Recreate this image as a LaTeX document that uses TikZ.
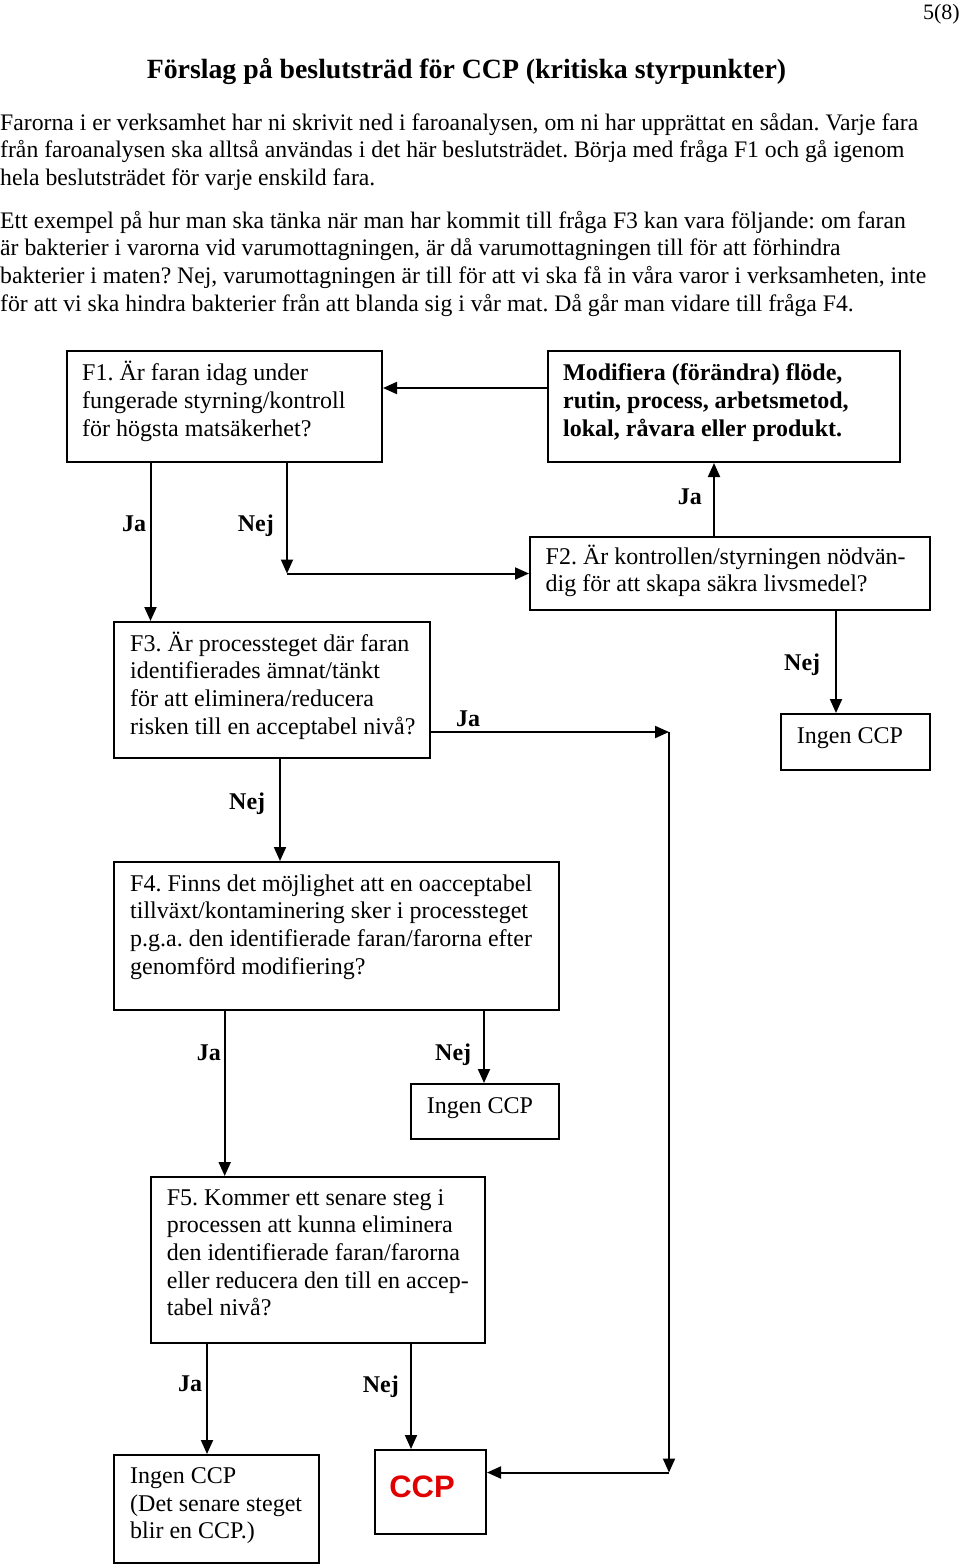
\documentclass[tikz,border=0pt]{standalone}
\usepackage{fontspec}
\setmainfont{Liberation Serif}
\newfontfamily\ccpfont{Liberation Sans}
\usetikzlibrary{arrows.meta}
\definecolor{ccpred}{RGB}{225,0,0}
\frenchspacing
\begin{document}
\begin{tikzpicture}[x=1pt,y=-1pt,
  box/.style={draw, line width=2pt, inner sep=0pt, anchor=north west},
  body/.style={anchor=base west, inner sep=0pt, align=left, font=\fontsize{24}{27.7}\selectfont\frenchspacing},
  para/.style={anchor=base west, inner sep=0pt, align=left, font=\fontsize{23.7}{27.7}\selectfont\frenchspacing},
  bodyb/.style={anchor=base west, inner sep=0pt, align=left, font=\fontsize{24}{27.7}\selectfont\bfseries\frenchspacing},
  lab/.style={anchor=base west, inner sep=0pt, font=\fontsize{24}{27.7}\selectfont\bfseries},
  arr/.style={line width=2pt, -{Triangle[length=14pt,width=12pt]}}]
\useasboundingbox (0,0) rectangle (960,1564);

% header text (anchors are at the baseline of the last line)
\node[anchor=base east, inner sep=0pt, font=\fontsize{22}{26}\selectfont] (pg) at (960,19) {5(8)};
\node[anchor=base, inner sep=0pt, font=\fontsize{27.8}{30}\selectfont\bfseries] (title) at (466.5,78) {Förslag på beslutsträd för CCP (kritiska styrpunkter)};
\node[para] (p1) at (0,185.4) {Farorna i er verksamhet har ni skrivit ned i faroanalysen, om ni har upprättat en sådan. Varje fara\\från faroanalysen ska alltså användas i det här beslutsträdet. Börja med fråga F1 och gå igenom\\hela beslutsträdet för varje enskild fara.};
\node[para] (p2) at (0,311.1) {Ett exempel på hur man ska tänka när man har kommit till fråga F3 kan vara följande: om faran\\är bakterier i varorna vid varumottagningen, är då varumottagningen till för att förhindra\\bakterier i maten? Nej, varumottagningen är till för att vi ska få in våra varor i verksamheten, inte\\för att vi ska hindra bakterier från att blanda sig i vår mat. Då går man vidare till fråga F4.};

% boxes
\node[box, minimum width=315pt, minimum height=111pt] (f1) at (66,350) {};
\node[box, minimum width=352pt, minimum height=111pt] (mod) at (547,350) {};
\node[box, minimum width=400pt, minimum height=73pt] (f2) at (529,536) {};
\node[box, minimum width=316pt, minimum height=136pt] (f3) at (113,621) {};
\node[box, minimum width=149pt, minimum height=56pt] (ingA) at (780,713) {};
\node[box, minimum width=445pt, minimum height=148pt] (f4) at (113,861) {};
\node[box, minimum width=148pt, minimum height=55pt] (ingB) at (410,1083) {};
\node[box, minimum width=334pt, minimum height=166pt] (f5) at (150,1176) {};
\node[box, minimum width=205pt, minimum height=108pt] (ingC) at (113,1454) {};
\node[box, minimum width=111pt, minimum height=84pt] (ccp) at (374,1449) {};

% box texts
\node[body] (f1t) at (82,436.1) {F1. Är faran idag under\\fungerade styrning/kontroll\\för högsta matsäkerhet?};
\node[bodyb] (modt) at (563,436.1) {Modifiera (förändra) flöde,\\rutin, process, arbetsmetod,\\lokal, råvara eller produkt.};
\node[body] (f2t) at (545.5,591.7) {F2. Är kontrollen/styrningen nödvän-\\dig för att skapa säkra livsmedel?};
\node[body] (f3t) at (130,734.1) {F3. Är processteget där faran\\identifierades ämnat/tänkt\\för att eliminera/reducera\\risken till en acceptabel nivå?};
\node[body] (ingAt) at (796.7,743.3) {Ingen CCP};
\node[body] (f4t) at (130,974.1) {F4. Finns det möjlighet att en oacceptabel\\tillväxt/kontaminering sker i processteget\\p.g.a. den identifierade faran/farorna efter\\genomförd modifiering?};
\node[body] (ingBt) at (426.7,1113.3) {Ingen CCP};
\node[body] (f5t) at (166.7,1315.8) {F5. Kommer ett senare steg i\\processen att kunna eliminera\\den identifierade faran/farorna\\eller reducera den till en accep-\\tabel nivå?};
\node[body] (ingCt) at (130,1538.7) {Ingen CCP\\(Det senare steget\\blir en CCP.)};
\node[inner sep=0pt, font=\fontsize{31}{34}\selectfont\ccpfont\bfseries, text=ccpred] (ccpt) at (422,1487) {CCP};

% labels
\node[lab] (ja1) at (122,531.7) {Ja};
\node[lab] (nej1) at (237.7,531.7) {Nej};
\node[lab] (ja2) at (677.7,504) {Ja};
\node[lab] (nej2) at (784,670.7) {Nej};
\node[lab] (ja3) at (456,726) {Ja};
\node[lab] (nej3) at (229,809) {Nej};
\node[lab] (ja4) at (196.7,1060) {Ja};
\node[lab] (nej4) at (435,1060) {Nej};
\node[lab] (ja5) at (178,1391.7) {Ja};
\node[lab] (nej5) at (362.7,1392) {Nej};

% connectors
\draw[arr] ([yshift=18.5pt]mod.west) -- ([yshift=18.5pt]mod.west -| f1.east);
\draw[arr] ([xshift=84.5pt]f1.south west) -- ([xshift=84.5pt]f1.south west |- f3.north);
\coordinate (c1) at ([xshift=221pt]f1.south west |- f2.west);
\draw[arr] ([xshift=221pt]f1.south west) -- (c1);
\draw[arr] (c1) -- (f2.west);
\draw[arr] ([xshift=185pt]f2.north west) -- ([xshift=185pt]f2.north west |- mod.south);
\draw[arr] ([xshift=307pt]f2.south west) -- ([xshift=307pt]f2.south west |- ingA.north);
\coordinate (c2) at (669,732);
\coordinate (c3) at (669,1472.5);
\draw[arr] (f3.east |- c2) -- (c2);
\draw[arr] (c2) -- (c3);
\draw[arr] (c3) -- (c3 -| ccp.east);
\draw[arr] ([xshift=167pt]f3.south west) -- ([xshift=167pt]f3.south west |- f4.north);
\draw[arr] ([xshift=111.7pt]f4.south west) -- ([xshift=111.7pt]f4.south west |- f5.north);
\draw[arr] ([xshift=371pt]f4.south west) -- ([xshift=371pt]f4.south west |- ingB.north);
\draw[arr] ([xshift=57pt]f5.south west) -- ([xshift=57pt]f5.south west |- ingC.north);
\draw[arr] ([xshift=261pt]f5.south west) -- ([xshift=261pt]f5.south west |- ccp.north);
\end{tikzpicture}
\end{document}
